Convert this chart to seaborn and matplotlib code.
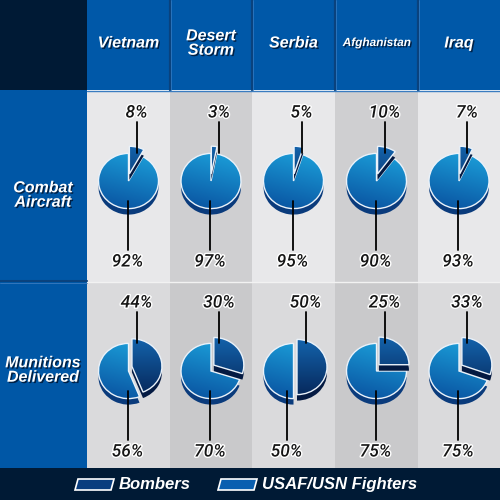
import numpy as np
import matplotlib
matplotlib.use('Agg')
import matplotlib.pyplot as plt
import matplotlib.patheffects as pe
from matplotlib.patches import Rectangle, Polygon
from matplotlib.transforms import Affine2D
import seaborn as sns

conflicts = ['Vietnam', 'Desert\nStorm', 'Serbia', 'Afghanistan', 'Iraq']
row_labels = ['Combat\nAircraft', 'Munitions\nDelivered']
bombers_aircraft = [8, 3, 5, 10, 7]
fighters_aircraft = [92, 97, 95, 90, 93]
bombers_munitions = [44, 30, 50, 25, 33]
fighters_munitions = [56, 70, 50, 75, 75]
legend_labels = ['Bombers', 'USAF/USN Fighters']

sns.set_theme(style='white')
plt.rcParams['font.family'] = ['Liberation Sans', 'DejaVu Sans']

fighter_cmap = sns.blend_palette(['#0a55a2', '#1b9dd8'], as_cmap=True)
bomber_cmap = sns.blend_palette(['#062658', '#1466b0'], as_cmap=True)
fighter_rim = '#0a3b7c'
bomber_rim = '#041a42'

navy = '#001a35'
header_blue = '#0058a8'
cell_colors = [['#e8e8ea', '#cfcfd1'], ['#dadadc', '#c9c9cb']]

fig = plt.figure(figsize=(5, 5), dpi=100)
ax = fig.add_axes([0, 0, 1, 1])


def Y(y):
    # picture rows go down, axes go up
    return 500 - y


def rect(x0, y0, x1, y1, color, z=0):
    ax.add_patch(Rectangle((x0, Y(y1)), x1 - x0, y1 - y0, color=color, lw=0, zorder=z))


edges = [87, 170, 252, 335, 418, 500]
row_spans = [(91, 282), (282, 468)]
pie_cy = [181, 371]
label_cy = [195, 370]

# background blocks
rect(0, 0, 87, 90, navy)
rect(87, 0, 500, 90, header_blue)
rect(0, 90, 87, 468, '#0057a6')
rect(0, 468, 500, 500, navy)
for r, (y0, y1) in enumerate(row_spans):
    for c in range(5):
        rect(edges[c], y0, edges[c + 1], y1, cell_colors[r][c % 2])

ax.plot([87, 500], [Y(90.5), Y(90.5)], color='#3a7cc0', lw=1, zorder=1)
ax.plot([87, 500], [Y(282), Y(282)], color='#f2f2f2', lw=1, zorder=1)
ax.plot([0, 87], [Y(281), Y(281)], color='#0a427d', lw=1.5, zorder=1)
ax.plot([0, 87], [Y(282.5), Y(282.5)], color='#3a7cc0', lw=0.6, zorder=1)
for x in edges[1:5]:
    ax.plot([x, x], [Y(0), Y(90)], color='#0a427d', lw=1.6, zorder=1)
    ax.plot([x + 1.2, x + 1.2], [Y(0), Y(90)], color='#2f78c0', lw=0.6, zorder=1)

head_fx = [pe.withSimplePatchShadow(offset=(1, -1), shadow_rgbFace='#001a3a', alpha=0.9)]
num_fx = [pe.withStroke(linewidth=2, foreground='white')]

for c, name in enumerate(conflicts):
    cx = (edges[c] + edges[c + 1]) / 2
    size = 8.5 if name == 'Afghanistan' else 11.5
    ax.text(cx, Y(43), name, ha='center', va='center', color='white', fontsize=size,
            fontweight='bold', fontstyle='italic', linespacing=0.95, path_effects=head_fx, zorder=6)

for r, lab in enumerate(row_labels):
    ax.text(43, Y(label_cy[r]), lab, ha='center', va='center', color='white', fontsize=11.5,
            fontweight='bold', fontstyle='italic', linespacing=0.95, path_effects=head_fx, zorder=6)


def shade(wedge, tr, cmap, tilt, z):
    g = np.linspace(-1.4, 1.4, 120)
    u, v = np.meshgrid(g, g)
    val = np.clip(0.5 + 0.45 * v + tilt * u, 0, 1)
    R = wedge.r
    im = ax.imshow(val, cmap=cmap, vmin=0, vmax=1, origin='lower',
                   extent=(-1.4 * R, 1.4 * R, -1.4 * R, 1.4 * R), zorder=z, interpolation='bilinear')
    im.set_transform(tr)
    im.set_clip_path(wedge)


def draw_pie(cx, cy, bomb, fight, R=30, squash=0.92, depth=6, pop=3.5, lift=4):
    vals = [bomb, fight]
    frac = bomb / (bomb + fight)
    mid = np.deg2rad(90 - frac * 180)
    # the bomber slice is pulled out and lifted a little
    shifts = [(pop * np.cos(mid), pop * np.sin(mid) * squash + lift), (0, 0)]
    cmaps = [bomber_cmap, fighter_cmap]
    rims = [bomber_rim, fighter_rim]
    tilts = [0.0, 0.12]
    # fighters drawn first, bombers on top
    for k, order in enumerate([1, 0]):
        sx, sy = shifts[order]
        z0 = 2 + 3 * k
        base = Affine2D().scale(1, squash)
        wedges, _ = ax.pie(vals, radius=R, center=(0, 0), startangle=90, counterclock=False,
                           colors=rims, wedgeprops=dict(lw=0))
        rim = wedges[order]
        rim.set_transform(base + Affine2D().translate(cx + sx, Y(cy) + sy - depth) + ax.transData)
        rim.set_zorder(z0)
        wedges[1 - order].remove()
        tr = base + Affine2D().translate(cx + sx, Y(cy) + sy) + ax.transData
        wedges, _ = ax.pie(vals, radius=R, center=(0, 0), startangle=90, counterclock=False,
                           colors=['none', 'none'], wedgeprops=dict(lw=1, edgecolor='#eaf2fa'))
        top = wedges[order]
        top.set_transform(tr)
        top.set_zorder(z0 + 2)
        wedges[1 - order].remove()
        shade(top, tr, cmaps[order], tilts[order], z0 + 1)


for r, (bombs, fights) in enumerate([(bombers_aircraft, fighters_aircraft),
                                      (bombers_munitions, fighters_munitions)]):
    cy = pie_cy[r]
    for c in range(5):
        cx = (edges[c] + edges[c + 1]) / 2
        draw_pie(cx, cy, bombs[c], fights[c])
        dx_top = 12 if bombs[c] >= 50 else 8
        dx_bot = -7 if fights[c] <= 50 else -1
        ax.plot([cx + dx_top] * 2, [Y(cy - 59), Y(cy - 28)], color='black', lw=1.3, zorder=9)
        ax.plot([cx + dx_bot] * 2, [Y(cy + 20), Y(cy + 69)], color='black', lw=1.3, zorder=9)
        ax.text(cx + dx_top, Y(cy - 68), f'{bombs[c]}%', ha='center', va='center', fontsize=12.5,
                family=['Roboto', 'DejaVu Sans'], fontweight='medium',
                fontstyle='italic', color='#151515', path_effects=num_fx, zorder=10)
        ax.text(cx + dx_bot, Y(cy + 81), f'{fights[c]}%', ha='center', va='center', fontsize=12.5,
                family=['Roboto', 'DejaVu Sans'], fontweight='medium',
                fontstyle='italic', color='#151515', path_effects=num_fx, zorder=10)

# legend strip
swatches = [(75, '#0a3d7e'), (218, '#0a5fb0')]
for (x0, col), lab in zip(swatches, legend_labels):
    ax.add_patch(Polygon([(x0 + 3, Y(479)), (x0 + 39, Y(479)), (x0 + 36, Y(490)), (x0, Y(490))],
                         closed=True, facecolor=col, edgecolor='white', lw=1.2, zorder=6))
    ax.text(x0 + 44, Y(484.5), lab, ha='left', va='center', color='white', fontsize=12,
            fontweight='bold', fontstyle='italic', zorder=6)

ax.set_xlim(0, 500)
ax.set_ylim(0, 500)
ax.set_aspect('auto')
ax.set_axis_off()
fig.savefig('out.png', dpi=100)
